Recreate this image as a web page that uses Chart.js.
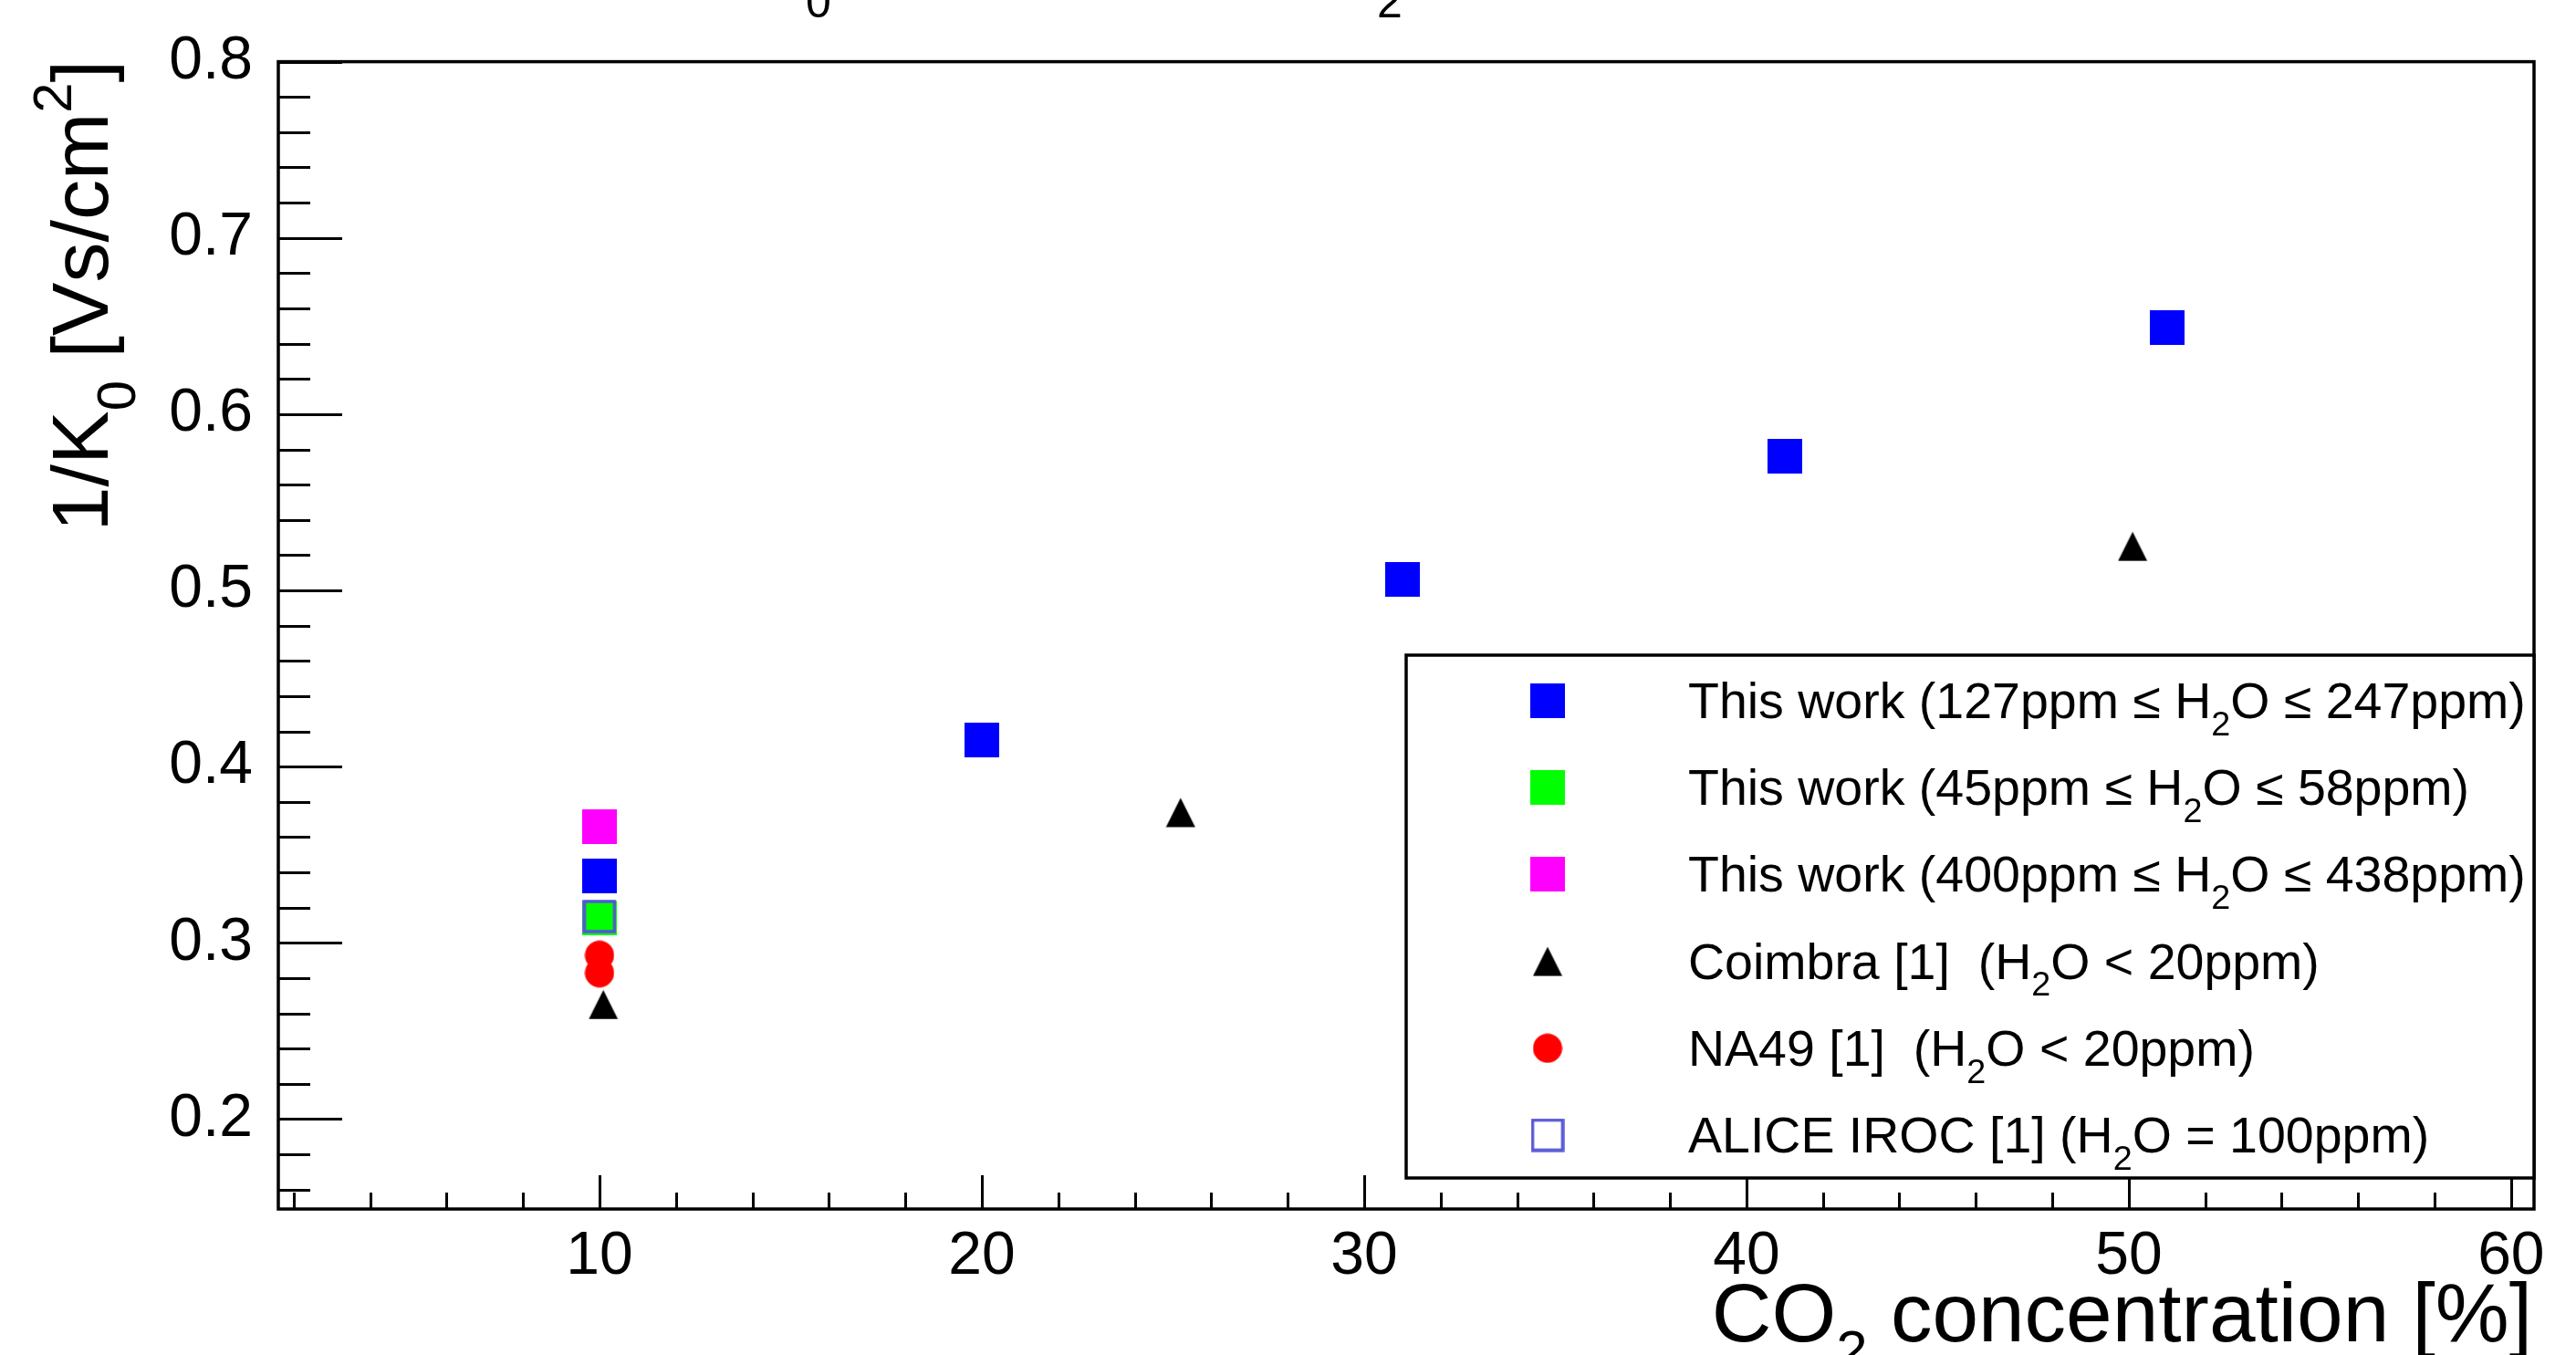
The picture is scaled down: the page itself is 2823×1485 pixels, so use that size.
<!DOCTYPE html>
<html>
<head>
<meta charset="utf-8">
<script src="https://cdn.jsdelivr.net/npm/chart.js@4.4.1/dist/chart.umd.min.js"></script>
<style>
    html, body { margin: 0; padding: 0; background: #fff; }
    #mycanvas { display: block; }
</style>
</head>
<body>
<canvas id="mycanvas" width="2823" height="1485"></canvas>
<script>
// values
var blueX = [10, 20, 31, 41, 51];
var blueY = [0.338, 0.415, 0.506, 0.576, 0.649];
var greenX = [10];
var greenY = [0.314];
var magentaX = [10];
var magentaY = [0.366];
var coimbraX = [10.1, 25.2, 50.1];
var coimbraY = [0.265, 0.374, 0.525];
var na49X = [10, 10];
var na49Y = [0.293, 0.283];
var aliceX = [10];
var aliceY = [0.315];

var labels = [
    'This work (127ppm \u2264 H_{2}O \u2264 247ppm)',
    'This work (45ppm \u2264 H_{2}O \u2264 58ppm)',
    'This work (400ppm \u2264 H_{2}O \u2264 438ppm)',
    'Coimbra [1]  (H_{2}O < 20ppm)',
    'NA49 [1]  (H_{2}O < 20ppm)',
    'ALICE IROC [1] (H_{2}O = 100ppm)'
];

var xTicks = [10, 20, 30, 40, 50, 60];
var yTicks = [0.2, 0.3, 0.4, 0.5, 0.6, 0.7, 0.8];
var xMin = 1.6, xMax = 60.6;
var yMin = 0.149, yMax = 0.8;

var xTitle = 'CO_{2} concentration [%]';
var yTitle = '1/K_{0} [Vs/cm^{2}]';

var FONT = '"Liberation Sans", Arial, sans-serif';

function toPoints(xs, ys) {
    var pts = [];
    for (var i = 0; i < xs.length; i++) {
        pts.push({x: xs[i], y: ys[i]});
    }
    return pts;
}

// marker images, used both on the plot and in the legend
function makeMarker(kind, color, size) {
    var c = document.createElement('canvas');
    c.width = size;
    c.height = size;
    var g = c.getContext('2d');
    g.fillStyle = color;
    g.strokeStyle = color;
    if (kind === 'square') {
        g.fillRect(0, 0, size, size);
    } else if (kind === 'open') {
        g.lineWidth = 3.5;
        g.strokeRect(2, 2, size - 4, size - 4);
    } else if (kind === 'circle') {
        g.beginPath();
        g.arc(size / 2, size / 2, size / 2 - 0.5, 0, Math.PI * 2);
        g.fill();
    } else if (kind === 'triangle') {
        g.beginPath();
        g.moveTo(0.5, size - 0.5);
        g.lineTo(size / 2, 0.5);
        g.lineTo(size - 0.5, size - 0.5);
        g.closePath();
        g.fill();
    }
    return c;
}

function parseRich(str) {
    var out = [];
    var re = /([_^])\{([^}]*)\}/g;
    var last = 0, m;
    while ((m = re.exec(str)) !== null) {
        if (m.index > last) out.push({t: str.slice(last, m.index), k: ''});
        out.push({t: m[2], k: m[1]});
        last = re.lastIndex;
    }
    if (last < str.length) out.push({t: str.slice(last), k: ''});
    return out;
}

function drawRich(ctx, str, x, y, size, align) {
    var segs = parseRich(str);
    var w = 0;
    segs.forEach(function(s) {
        s.size = s.k ? size * 0.68 : size;
        ctx.font = s.size + 'px ' + FONT;
        s.w = ctx.measureText(s.t).width;
        w += s.w;
    });
    var cx = align === 'right' ? x - w : x;
    ctx.textAlign = 'left';
    ctx.textBaseline = 'alphabetic';
    segs.forEach(function(s) {
        ctx.font = s.size + 'px ' + FONT;
        var dy = 0;
        if (s.k === '_') dy = size * 0.34;
        if (s.k === '^') dy = -size * 0.45;
        ctx.fillText(s.t, cx, y + dy);
        cx += s.w;
    });
    return w;
}

// frame and inward ticks, ROOT style
var framePlugin = {
    id: 'frame',
    beforeDatasetsDraw: function(chart) {
        var ctx = chart.ctx;
        var a = chart.chartArea;
        var xs = chart.scales.x, ys = chart.scales.y;
        ctx.save();
        ctx.strokeStyle = '#000';
        ctx.lineWidth = 3;
        ctx.beginPath();
        var v, px, py;
        for (v = 2; v <= xMax; v += 2) {
            px = Math.round(xs.getPixelForValue(v)) + 0.5;
            var len = (v % 10 === 0) ? 37 : 18;
            ctx.moveTo(px, a.bottom);
            ctx.lineTo(px, a.bottom - len);
        }
        for (var k = 8; k <= 40; k++) {
            v = k / 50;
            if (v < yMin) continue;
            py = Math.round(ys.getPixelForValue(v)) + 0.5;
            var ylen = (k % 5 === 0) ? 70 : 35;
            ctx.moveTo(a.left, py);
            ctx.lineTo(a.left + ylen, py);
        }
        ctx.stroke();
        ctx.lineWidth = 3.5;
        ctx.strokeRect(a.left, a.top, a.right - a.left, a.bottom - a.top);
        ctx.restore();
    },
    afterDraw: function(chart) {
        var ctx = chart.ctx;
        ctx.save();
        ctx.fillStyle = '#000';
        drawRich(ctx, xTitle, 2775, 1470, 91, 'right');
        ctx.translate(118, 66);
        ctx.rotate(-Math.PI / 2);
        drawRich(ctx, yTitle, 0, 0, 88, 'right');
        ctx.restore();
        // subscripts of the title, the rest lies above the picture
        ctx.save();
        ctx.fillStyle = '#000';
        ctx.font = '50px ' + FONT;
        ctx.textAlign = 'left';
        ctx.textBaseline = 'alphabetic';
        ctx.fillText('0', 883, 19);
        ctx.fillText('2', 1509, 19);
        ctx.restore();
    }
};

var legendPlugin = {
    id: 'rootLegend',
    afterDatasetsDraw: function(chart) {
        var ctx = chart.ctx;
        var box = {left: 1541, top: 718, right: 2777, bottom: 1291};
        ctx.save();
        ctx.fillStyle = '#fff';
        ctx.fillRect(box.left, box.top, box.right - box.left, box.bottom - box.top);
        ctx.strokeStyle = '#000';
        ctx.lineWidth = 3.5;
        ctx.strokeRect(box.left, box.top, box.right - box.left, box.bottom - box.top);
        ctx.fillStyle = '#000';
        var ds = chart.data.datasets;
        for (var i = 0; i < ds.length; i++) {
            var cy = box.top + 50 + i * 95.2;
            var img = ds[i].pointStyle;
            ctx.drawImage(img, 1696 - img.width / 2, cy - img.height / 2);
            drawRich(ctx, ds[i].label, 1850, cy + 19, 55.5, 'left');
        }
        ctx.restore();
    }
};

var ctx = document.getElementById('mycanvas');

var chartdata = {
    datasets: [{
        label: labels[0],
        data: toPoints(blueX, blueY),
        pointStyle: makeMarker('square', '#0000ff', 38),
        order: 3
    }, {
        label: labels[1],
        data: toPoints(greenX, greenY),
        pointStyle: makeMarker('square', '#00ff00', 38),
        order: 2
    }, {
        label: labels[2],
        data: toPoints(magentaX, magentaY),
        pointStyle: makeMarker('square', '#ff00ff', 38),
        order: 4
    }, {
        label: labels[3],
        data: toPoints(coimbraX, coimbraY),
        pointStyle: makeMarker('triangle', '#000000', 33),
        order: 5
    }, {
        label: labels[4],
        data: toPoints(na49X, na49Y),
        pointStyle: makeMarker('circle', '#ff0000', 33),
        order: 6
    }, {
        label: labels[5],
        data: toPoints(aliceX, aliceY),
        pointStyle: makeMarker('open', 'rgb(85,85,215)', 37),
        order: 1
    }]
};

var tickFont = {family: FONT, size: 66};

var scatter = new Chart(ctx, {
    type: 'scatter',
    data: chartdata,
    options: {
        responsive: false,
        animation: false,
        devicePixelRatio: 1,
        layout: {padding: {top: 67, right: 46, left: 0, bottom: 0}},
        elements: {point: {radius: 5, hoverRadius: 5}},
        scales: {
            x: {
                type: 'linear',
                min: xMin,
                max: xMax,
                afterBuildTicks: function(s) { s.ticks = xTicks.map(function(v) { return {value: v}; }); },
                afterFit: function(s) { s.height = 160; },
                grid: {display: false, drawTicks: false},
                border: {display: false},
                ticks: {font: tickFont, color: '#000', padding: 13, maxRotation: 0, autoSkip: false}
            },
            y: {
                type: 'linear',
                min: yMin,
                max: yMax,
                afterBuildTicks: function(s) { s.ticks = yTicks.map(function(v) { return {value: v}; }); },
                afterFit: function(s) { s.width = 305; },
                grid: {display: false, drawTicks: false},
                border: {display: false},
                ticks: {font: tickFont, color: '#000', padding: 28, autoSkip: false}
            }
        },
        plugins: {
            legend: {display: false},
            tooltip: {enabled: false}
        }
    },
    plugins: [framePlugin, legendPlugin]
});
</script>
</body>
</html>
